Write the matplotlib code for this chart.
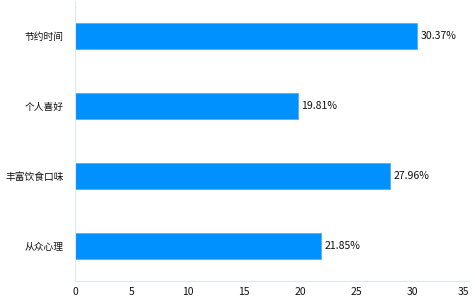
import matplotlib
matplotlib.use('Agg')
import matplotlib.pyplot as plt

plt.rcParams['font.family'] = ['Noto Sans CJK SC', 'DejaVu Sans']

# 数据
categories = ['节约时间', '个人喜好', '丰富饮食口味', '从众心理']
values = [30.37, 19.81, 27.96, 21.85]
xticks = [0, 5, 10, 15, 20, 25, 30, 35]

fig = plt.figure(figsize=(4.75, 3.02), dpi=100)
ax = fig.add_axes([75 / 475, 21 / 302, 394 / 475, 280 / 302])

ypos = list(range(len(categories)))
ax.barh(ypos, values, height=0.36, color='#0091ff', edgecolor='#4fb0ff', linewidth=0.6)
for y, v in zip(ypos, values):
    ax.text(v + 0.3, y, f'{v:.2f}%', va='center', ha='left', fontsize=7.6,
            color='#111111', fontweight='medium')

ax.set_ylim(len(categories) - 0.5, -0.5)
ax.set_xlim(0, 35)
ax.set_xticks(xticks)
ax.set_yticks(ypos)
ax.set_yticklabels(categories, fontsize=7, color='#111111', fontweight='medium')
ax.tick_params(axis='x', length=0, pad=4, labelsize=7.5, labelcolor='#111111')
ax.tick_params(axis='y', length=0, pad=8)
xlabels = ax.get_xticklabels()
for lab in xlabels:
    lab.set_fontweight('medium')
xlabels[-1].set_horizontalalignment('right')

for s in ['top', 'right']:
    ax.spines[s].set_visible(False)
ax.spines['left'].set_color('#dce8f8')
ax.spines['bottom'].set_color('#dce8f8')

plt.savefig('out.png', dpi=100)
